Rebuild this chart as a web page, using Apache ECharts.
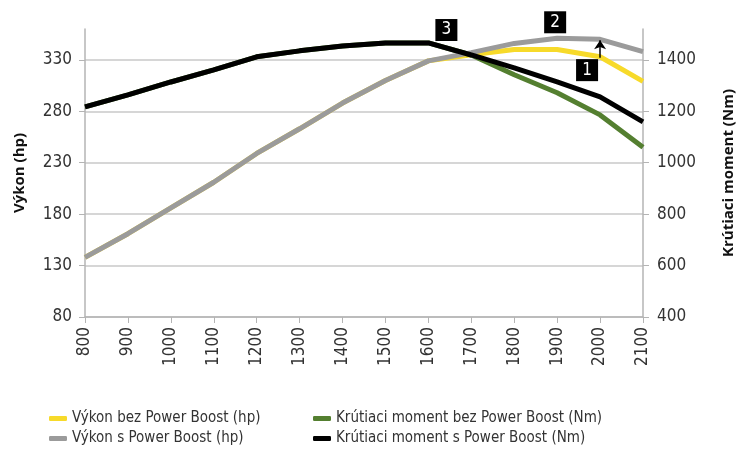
<!DOCTYPE html>
<html lang="sk">
<head>
    <meta charset="UTF-8">
    <title>Výkon a krútiaci moment</title>
    <script src="https://cdn.jsdelivr.net/npm/echarts@6/dist/echarts.min.js"></script>
</head>
<style type="text/css">
    body{
        margin:0;
    }
    #chart{
        width: 737px;
        height: 453px;
    }
</style>
<body>
    <div id="chart"></div>
<script type="text/javascript">
var rpm = ['800', '900', '1000', '1100', '1200', '1300', '1400', '1500', '1600', '1700', '1800', '1900', '2000', '2100'];

// hp, left axis
var hpNoBoost = [138, 161, 186, 211, 239, 263, 288, 310, 329, 335, 340, 340, 333, 309];
var hpBoost   = [138, 161, 186, 211, 239, 263, 288, 310, 329, 337, 346, 351, 350, 338];
// Nm, right axis
var nmNoBoost = [1217, 1264, 1314, 1361, 1412, 1435, 1454, 1466, 1466, 1419, 1342, 1272, 1186, 1060];
var nmBoost   = [1217, 1264, 1314, 1361, 1412, 1435, 1454, 1466, 1466, 1419, 1369, 1314, 1256, 1159];

var names = [
    'Výkon bez Power Boost (hp)',
    'Výkon s Power Boost (hp)',
    'Krútiaci moment bez Power Boost (Nm)',
    'Krútiaci moment s Power Boost (Nm)'
];

var font = 'DejaVu Sans Condensed';
var narrow = '"Liberation Sans Narrow", "DejaVu Sans Condensed", sans-serif';
var labelColor = '#333';

function badge(text, x, y, offset) {
    return {
        coord: [x, y],
        value: text,
        symbol: 'rect',
        symbolSize: [22, 22],
        symbolOffset: offset,
        itemStyle: { color: '#000' },
        label: {
            show: true,
            position: 'inside',
            formatter: text,
            color: '#fff',
            fontSize: 17,
            fontFamily: font
        }
    };
}

function line(name, data, color, axis) {
    return {
        name: name,
        type: 'line',
        data: data,
        yAxisIndex: axis,
        symbol: 'none',
        lineStyle: { width: 5, color: color },
        itemStyle: { color: color }
    };
}

var gray = line(names[1], hpBoost, '#9b9b9b', 0);
gray.markPoint = {
    silent: true,
    animation: false,
    data: [
        badge('3', '1600', 359, [18, 0]),
        badge('2', '1900', 350, [-2, -17]),
        badge('1', '2000', 320, [-13, 0])
    ]
};
gray.markLine = {
    silent: true,
    animation: false,
    symbol: ['none', 'arrow'],
    symbolSize: 9,
    label: { show: false },
    lineStyle: { color: '#000', width: 1.5, type: 'solid' },
    data: [[{ coord: ['2000', 332] }, { coord: ['2000', 349] }]]
};

var legendBase = {
    orient: 'vertical',
    top: 406,
    itemGap: 5,
    itemWidth: 18,
    itemHeight: 5,
    icon: 'roundRect',
    textStyle: { fontSize: 15, color: labelColor, fontFamily: narrow }
};

var option = {
    animation: false,
    textStyle: { fontFamily: font },
    grid: { left: 85, right: 94, top: 29, bottom: 136, outerBoundsMode: 'none' },
    legend: [
        Object.assign({ left: 44, data: [names[0], names[1]] }, legendBase),
        Object.assign({ left: 308, data: [names[2], names[3]] }, legendBase)
    ],
    xAxis: {
        type: 'category',
        data: rpm,
        boundaryGap: false,
        axisLine: { lineStyle: { color: '#b4b4b4', width: 1.5 } },
        axisTick: { show: true, length: 6, alignWithLabel: true, lineStyle: { color: '#b4b4b4' } },
        axisLabel: { rotate: 90, fontSize: 17, color: labelColor, margin: 10, interval: 0 }
    },
    yAxis: [{
        type: 'value',
        min: 80,
        max: 360,
        interval: 50,
        name: 'Výkon (hp)',
        nameLocation: 'middle',
        nameRotate: 90,
        nameGap: 58,
        nameTextStyle: { fontSize: 15, fontWeight: 'bold', color: '#111', fontFamily: 'Open Sans' },
        axisLine: { show: true, lineStyle: { color: '#b4b4b4', width: 1.5 } },
        axisTick: { show: true, length: 6, lineStyle: { color: '#b4b4b4' } },
        axisLabel: { fontSize: 17, color: labelColor, margin: 13, showMaxLabel: false },
        splitLine: { show: true, showMaxLine: false, lineStyle: { color: '#c8c8c8', width: 1.5 } }
    }, {
        type: 'value',
        min: 400,
        max: 1520,
        interval: 200,
        position: 'right',
        name: 'Krútiaci moment (Nm)',
        nameLocation: 'middle',
        nameRotate: 90,
        nameGap: 78,
        nameTextStyle: { fontSize: 15, fontWeight: 'bold', color: '#111', fontFamily: 'Open Sans' },
        axisLine: { show: true, lineStyle: { color: '#b4b4b4', width: 1.5 } },
        axisTick: { show: true, length: 6, lineStyle: { color: '#b4b4b4' } },
        axisLabel: {
            fontSize: 17,
            color: labelColor,
            margin: 14,
            showMaxLabel: false,
            formatter: function (v) { return String(v); }
        },
        splitLine: { show: false }
    }],
    series: [
        line(names[0], hpNoBoost, '#f7da2a', 0),
        line(names[2], nmNoBoost, '#547f30', 1),
        gray,
        line(names[3], nmBoost, '#000000', 1)
    ]
};

var myChart = echarts.init(document.getElementById('chart'));
myChart.setOption(option);
</script>
</body>
</html>
